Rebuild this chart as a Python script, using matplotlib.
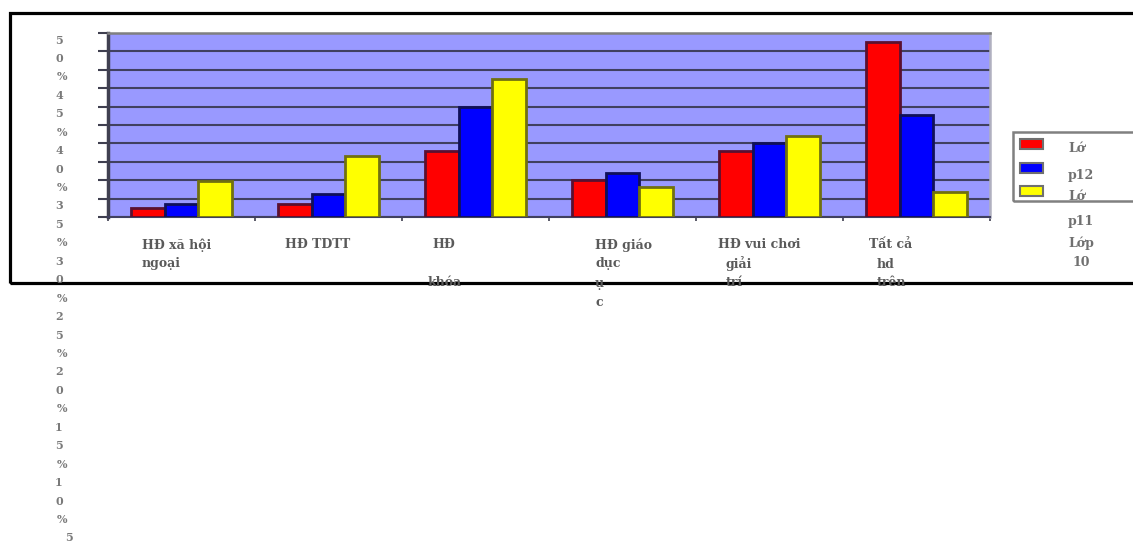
import matplotlib
matplotlib.use("Agg")
import matplotlib.pyplot as plt
from matplotlib.patches import Rectangle
import numpy as np

# ---- data ----
categories = ["HĐ xã hội\nngoại", "HĐ TDTT", "HĐ\n\nkhóa", "HĐ giáo\ndục\nụ\nc",
              "HĐ vui chơi\ngiải\ntrí", "Tất cả\nhd\ntrên"]
series_names = ["Lớp12", "Lớp11", "Lớp10"]
lop12 = [2.4, 3.5, 18.0, 10.0, 18.0, 47.6]
lop11 = [3.5, 6.2, 29.8, 12.0, 20.0, 27.7]
lop10 = [9.9, 16.6, 37.4, 8.2, 22.0, 6.7]
ytick_values = [50, 45, 40, 35, 30, 25, 20, 15, 10, 5, 0]
ytick_labels = ["50%", "45%", "40%", "35%", "30%", "25%", "20%", "15%", "10%", "5%", "0%"]
legend_lines = ["Lớ", "p12", "Lớ", "p11", "Lớp", "10"]

# ---- style / layout ----
W, H = 1133, 545
fig = plt.figure(figsize=(W / 100, H / 100), dpi=100)
fig.patch.set_facecolor("white")

def fx(x):
    return x / W

def fy(y):
    return 1 - y / H

# outer black frame (extends past right edge)
fig.patches.append(Rectangle((fx(10), fy(283)), fx(1150) - fx(10), fy(13) - fy(283),
                             transform=fig.transFigure, fill=False, edgecolor="black",
                             linewidth=2.3, zorder=0))

ax_left, ax_right, ax_top, ax_bottom = 108, 990, 33, 217
ax = fig.add_axes([fx(ax_left), fy(ax_bottom), fx(ax_right - ax_left), fy(ax_top) - fy(ax_bottom)])
ax.set_facecolor("#9999FF")

x = np.arange(len(categories))
bw = 0.23
colors = ["#FF0000", "#0000FF", "#FFFF00"]
edges = ["#5a1030", "#10105a", "#707010"]
for i, (vals, c, e) in enumerate(zip([lop12, lop11, lop10], colors, edges)):
    ax.bar(x + (i - 1) * bw, vals, width=bw, color=c, edgecolor=e, linewidth=2.0,
           zorder=3, label=series_names[i])

ax.set_xlim(-0.5, len(categories) - 0.5)
ax.set_ylim(0, 50)
ax.set_yticks(ytick_values)
ax.set_yticklabels([""] * len(ytick_values))
ax.yaxis.grid(True, color="#404060", linewidth=1.5, zorder=1)
ax.set_axisbelow(True)
ax.set_xticks(np.arange(-0.5, len(categories), 1.0))
ax.set_xticklabels([""] * (len(categories) + 1))
ax.tick_params(axis="y", length=7, width=1.5, color="#404050", direction="out")
ax.tick_params(axis="x", length=3, width=1.2, color="#404050", direction="out")
ax.spines["left"].set_color("#404050")
ax.spines["left"].set_linewidth(2.5)
ax.spines["bottom"].set_color("#404060")
ax.spines["bottom"].set_linewidth(1.5)
ax.spines["top"].set_color("#808080")
ax.spines["top"].set_linewidth(1.8)
ax.spines["right"].set_color("#b0b0c0")
ax.spines["right"].set_linewidth(1.8)

# y tick labels rendered as a wrapped character column (as in the reference);
# characters that would fall below the picture are not drawn
font = "DejaVu Serif"
chars = []
for lab in ytick_labels:
    shift = 10 if len(lab) == 2 else 0
    for ch in lab:
        chars.append((ch, shift))
for k, (ch, shift) in enumerate(chars):
    yy = 40 + 18.44 * k
    if yy > H - 5:
        break
    xx = (62 if ch == "%" else 59) + shift
    fig.text(fx(xx), fy(yy), ch, ha="center", va="center", fontsize=8,
             family=font, weight="bold", color="#7a7a7a")

# category labels, wrapped
label_x = [[142, 142], [285], [432, 428, 428], [595, 595, 595, 595],
           [718, 726, 726], [869, 877, 877]]
for lab, xs in zip(categories, label_x):
    for j, line in enumerate(lab.split("\n")):
        if not line:
            continue
        fig.text(fx(xs[j]), fy(245 + 19 * j), line, ha="left", va="center",
                 fontsize=9, family=font, weight="bold", color="#5a5a5a")

# legend box
fig.patches.append(Rectangle((fx(1013), fy(201)), fx(1150) - fx(1013), fy(132) - fy(201),
                             transform=fig.transFigure, fill=False, edgecolor="#808080",
                             linewidth=1.8, zorder=1))
sw_y = [144.5, 168, 191]
for c, e, yy in zip(colors, edges, sw_y):
    fig.patches.append(Rectangle((fx(1020), fy(yy + 5)), fx(23), 10 / H,
                                 transform=fig.transFigure, facecolor=c, edgecolor="#707070",
                                 linewidth=1.5, zorder=2))
leg_y = [148, 175, 197, 221, 243, 262]
leg_x = [1068, 1068, 1068, 1068, 1068, 1072]
for line, xx, yy in zip(legend_lines, leg_x, leg_y):
    fig.text(fx(xx), fy(yy), line, ha="left", va="center", fontsize=9,
             family=font, weight="bold", color="#707070")

fig.savefig("out.png", dpi=100, facecolor="white")
